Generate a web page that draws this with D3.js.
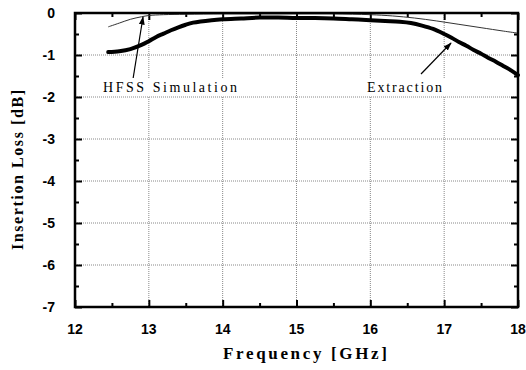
<!DOCTYPE html>
<html><head><meta charset="utf-8">
<script src="https://cdn.jsdelivr.net/npm/d3@7"></script>
<style>body{margin:0;background:#fff}svg{display:block}</style>
</head><body><svg id="c" width="526" height="370"></svg>
<script>
const xTicks = [12,13,14,15,16,17,18];
const yTicks = [0,-1,-2,-3,-4,-5,-6,-7];
const extFreq = [12.45,12.6,12.75,12.9,13.0,13.1,13.2,13.3,13.4,13.5,13.6,13.7,13.85,14.0,14.25,14.5,14.75,15.0,15.25,15.5,15.75,16.0,16.2,16.4,16.55,16.7,16.85,17.0,17.1,17.2,17.3,17.4,17.5,17.6,17.7,17.8,17.9,18.0];
const extraction = [-0.93,-0.91,-0.86,-0.76,-0.67,-0.57,-0.49,-0.41,-0.34,-0.28,-0.23,-0.2,-0.17,-0.15,-0.13,-0.11,-0.11,-0.12,-0.12,-0.13,-0.15,-0.17,-0.19,-0.21,-0.24,-0.3,-0.38,-0.5,-0.59,-0.69,-0.78,-0.88,-0.97,-1.07,-1.16,-1.26,-1.36,-1.48];
const hfssFreq = [12.45,12.6,12.75,12.9,13.0,13.2,13.5,14.0,14.5,15.0,15.5,16.0,16.3,16.6,16.9,17.2,17.5,17.8,18.0];
const hfss = [-0.33,-0.24,-0.15,-0.09,-0.06,-0.04,-0.03,-0.02,-0.02,-0.02,-0.02,-0.04,-0.07,-0.12,-0.19,-0.27,-0.35,-0.43,-0.48];

const svg = d3.select('#c');
const L=75,R=518,T=13,B=307;
const x = d3.scaleLinear().domain([12,18]).range([L,R]);
const y = d3.scaleLinear().domain([-7,0]).range([B,T]);

// grid
const g = svg.append('g');
xTicks.slice(1,-1).forEach(t=>g.append('line').attr('x1',x(t)).attr('x2',x(t)).attr('y1',T).attr('y2',B)
  .attr('stroke','#888').attr('stroke-width',1).attr('stroke-dasharray','1,1'));
yTicks.slice(1,-1).forEach(t=>g.append('line').attr('x1',L).attr('x2',R).attr('y1',y(t)).attr('y2',y(t))
  .attr('stroke','#888').attr('stroke-width',1).attr('stroke-dasharray','1,1'));

// axes with inward ticks
const minorX = d3.range(12.5,18,1), minorY = d3.range(-6.5,0,1);
svg.append('g').attr('transform',`translate(0,${B})`).call(d3.axisBottom(x).tickValues(xTicks).tickSize(-7).tickFormat(''));
svg.append('g').attr('transform',`translate(0,${B})`).call(d3.axisBottom(x).tickValues(minorX).tickSize(-4).tickFormat(''));
svg.append('g').attr('transform',`translate(0,${T})`).call(d3.axisTop(x).tickValues(xTicks).tickSize(-7).tickFormat(''));
svg.append('g').attr('transform',`translate(0,${T})`).call(d3.axisTop(x).tickValues(minorX).tickSize(-4).tickFormat(''));
svg.append('g').attr('transform',`translate(${L},0)`).call(d3.axisLeft(y).tickValues(yTicks).tickSize(-7).tickFormat(''));
svg.append('g').attr('transform',`translate(${L},0)`).call(d3.axisLeft(y).tickValues(minorY).tickSize(-4).tickFormat(''));
svg.append('g').attr('transform',`translate(${R},0)`).call(d3.axisRight(y).tickValues(yTicks).tickSize(-7).tickFormat(''));
svg.append('g').attr('transform',`translate(${R},0)`).call(d3.axisRight(y).tickValues(minorY).tickSize(-4).tickFormat(''));
svg.selectAll('.domain').remove();
svg.selectAll('.tick line').attr('stroke','#000').attr('stroke-width',2);

// tick labels
svg.append('g').selectAll('text').data(xTicks).join('text')
  .attr('x',d=>x(d)).attr('y',334).attr('text-anchor','middle')
  .attr('font-family','Liberation Sans, Arial').attr('font-weight','bold').attr('font-size',14).text(d=>d);
svg.append('g').selectAll('text').data(yTicks).join('text')
  .attr('x',55).attr('y',d=>y(d)+5).attr('text-anchor','end')
  .attr('font-family','Liberation Sans, Arial').attr('font-weight','bold').attr('font-size',14).text(d=>d);

// lines
const line = d3.line().curve(d3.curveCatmullRom);
svg.append('path').attr('d',line(hfssFreq.map((f,i)=>[x(f),y(hfss[i])])))
  .attr('fill','none').attr('stroke','#333').attr('stroke-width',1);
svg.append('path').attr('d',line(extFreq.map((f,i)=>[x(f),y(extraction[i])])))
  .attr('fill','none').attr('stroke','#000').attr('stroke-width',4).attr('stroke-linejoin','round').attr('stroke-linecap','round');

// frame
svg.append('rect').attr('x',L).attr('y',T).attr('width',R-L).attr('height',B-T)
  .attr('fill','none').attr('stroke','#000').attr('stroke-width',2.5);

// annotations
svg.append('defs').append('marker').attr('id','ah').attr('viewBox','0 0 10 10').attr('refX',9).attr('refY',5)
  .attr('markerWidth',7).attr('markerHeight',7).attr('orient','auto')
  .append('path').attr('d','M0,1.5L10,5L0,8.5Z').attr('fill','#000');
svg.append('line').attr('x1',133).attr('y1',79).attr('x2',143).attr('y2',17)
  .attr('stroke','#000').attr('stroke-width',1.2).attr('marker-end','url(#ah)');
svg.append('line').attr('x1',421).attr('y1',74).attr('x2',451).attr('y2',43)
  .attr('stroke','#000').attr('stroke-width',1.2).attr('marker-end','url(#ah)');
svg.append('rect').attr('x',100).attr('y',78).attr('width',140).attr('height',18).attr('fill','#fff');
svg.append('rect').attr('x',364).attr('y',78).attr('width',82).attr('height',18).attr('fill','#fff');
svg.append('text').attr('x',103).attr('y',92).attr('font-family','Liberation Serif, Times New Roman')
  .attr('font-size',14).attr('textLength',134).attr('lengthAdjust','spacing').text('HFSS Simulation');
svg.append('text').attr('x',367).attr('y',92).attr('font-family','Liberation Serif, Times New Roman')
  .attr('font-size',14).attr('textLength',75).attr('lengthAdjust','spacing').text('Extraction');

// axis titles
svg.append('text').attr('x',305).attr('y',359).attr('text-anchor','middle')
  .attr('font-family','Liberation Serif, Times New Roman').attr('font-weight','bold').attr('font-size',17)
  .attr('textLength',164).attr('lengthAdjust','spacing').text('Frequency [GHz]');
svg.append('text').attr('transform','translate(23,170) rotate(-90)').attr('text-anchor','middle')
  .attr('font-family','Liberation Serif, Times New Roman').attr('font-weight','bold').attr('font-size',16)
  .attr('textLength',160).attr('lengthAdjust','spacing').text('Insertion Loss [dB]');
</script></body></html>
